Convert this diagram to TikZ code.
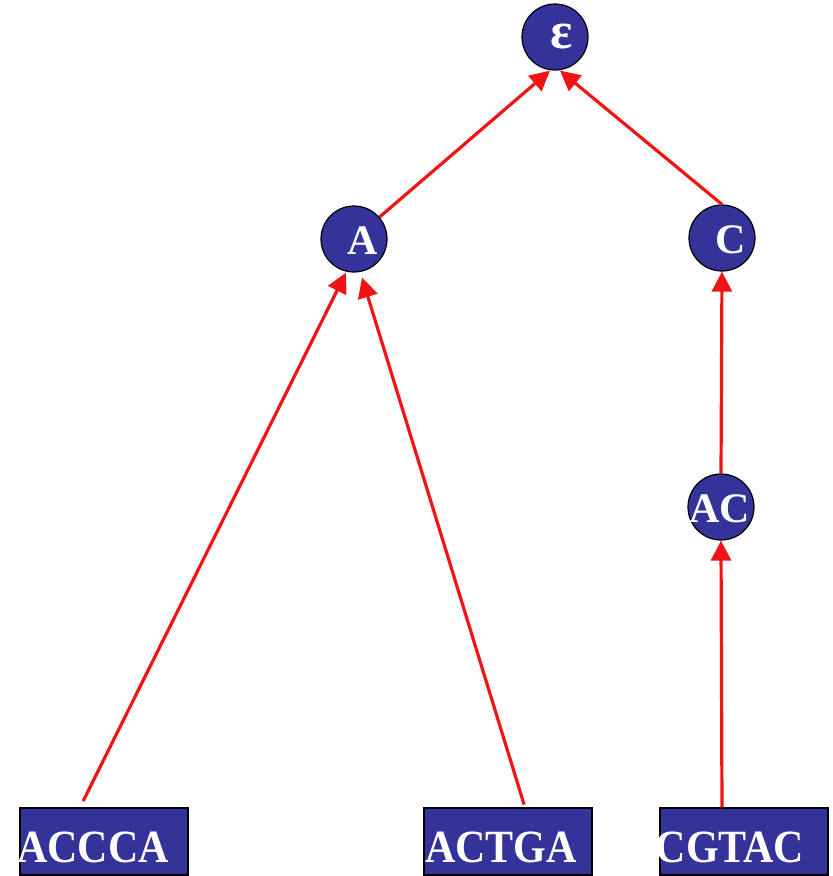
\documentclass[tikz,border=0pt]{standalone}
\usepackage{fontspec}
\setmainfont{Liberation Serif}
\usetikzlibrary{arrows.meta}
\definecolor{nodeblue}{RGB}{51,51,153}
\definecolor{edgered}{RGB}{240,20,20}
\begin{document}
\begin{tikzpicture}[x=1pt,y=-1pt,
  circ/.style={circle,draw=black,line width=1.2pt,fill=nodeblue,minimum size=66pt,inner sep=0pt},
  ctext/.style={text=white,font=\fontsize{42}{42}\selectfont\bfseries,inner sep=0pt},
  seqbox/.style={rectangle,draw=black,line width=1.2pt,fill=nodeblue,minimum width=168pt,minimum height=67pt,inner sep=0pt},
  stext/.style={text=white,font=\fontsize{42}{42}\selectfont\bfseries,inner sep=0pt,anchor=base,yscale=1.1,transform shape},
  link/.style={draw=edgered,line width=3.2pt,-{Triangle[length=20pt,width=20pt]}}]
\useasboundingbox (0,0) rectangle (833,876);
% circles
\node[circ] (eps) at (555,37) {};
\node[ctext,font=\fontsize{52}{52}\selectfont\bfseries] (teps) at (562,36) {ε};
\node[circ] (A) at (354,239) {};
\node[ctext] (tA) at (363,241) {A};
\node[circ] (C) at (722,238) {};
\node[ctext] (tC) at (731,240) {C};
\node[circ] (AC) at (721,507) {};
\node[ctext] (tAC) at (720,509) {AC};
% boxes
\node[seqbox] (b1) at (104,841.5) {};
\node[seqbox] (b2) at (508,841.5) {};
\node[seqbox] (b3) at (744,841.5) {};
\node[stext] (s1) at (93,862) {ACCCA};
\node[stext] (s2) at (501,862) {ACTGA};
\node[stext] (s3) at (730,862) {CGTAC};
% connectors
\draw[link,shorten <=7pt] ([xshift=-24pt]b1.north) -- ([xshift=-8pt]A.south);
\draw[link,shorten <=3pt] ([xshift=17pt]b2.north) -- ([xshift=8pt,yshift=-5pt]A.south);
\draw[link] ([xshift=-22pt]b3.north) -- (AC.south);
\draw[link] (AC.north) -- (C.south);
\draw[link] (C.north) -- ([xshift=5pt]eps.south);
\draw[link] (A) -- ([xshift=-5pt]eps.south);
\end{tikzpicture}
\end{document}
